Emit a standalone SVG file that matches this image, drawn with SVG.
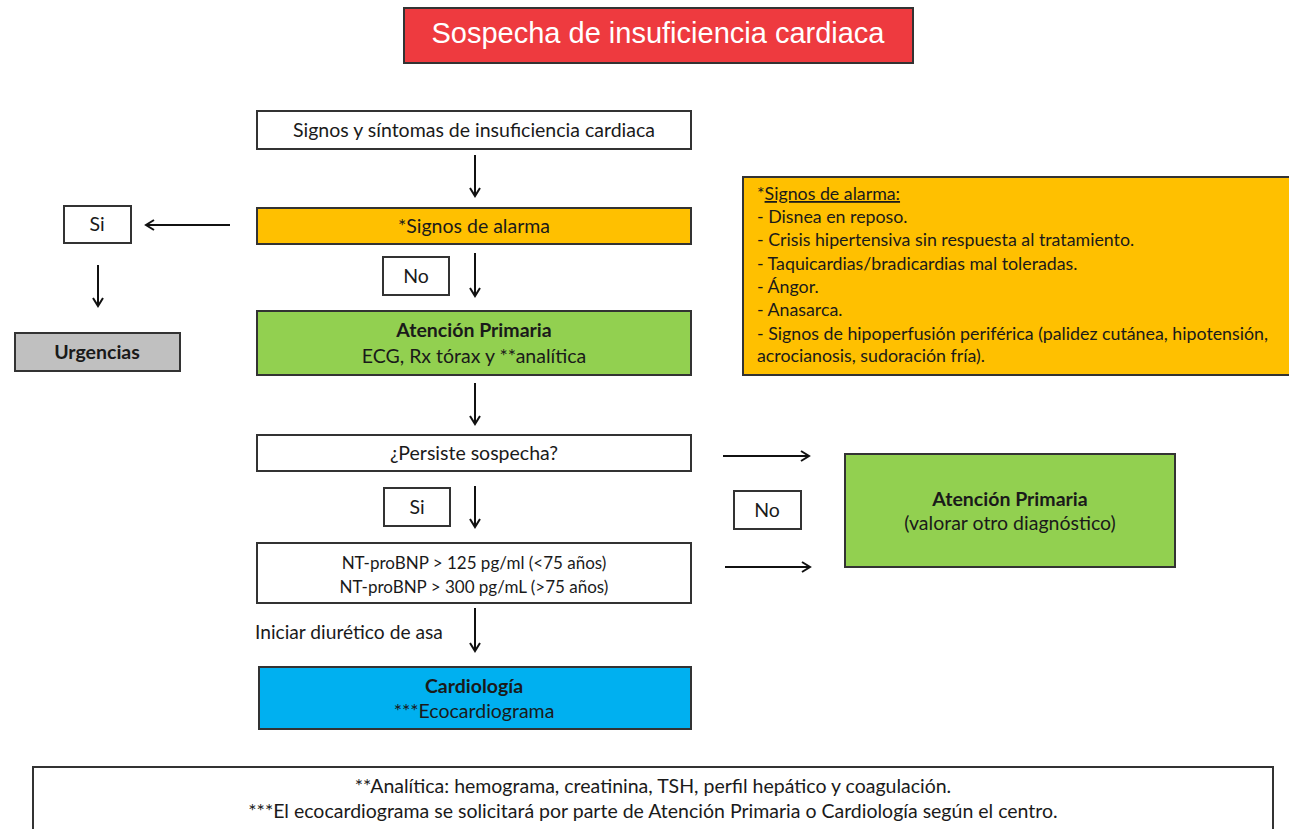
<svg xmlns="http://www.w3.org/2000/svg" width="1289" height="829" viewBox="0 0 1289 829">
<defs>
<marker id="ah" markerWidth="12" markerHeight="12" refX="10" refY="6" orient="auto" markerUnits="userSpaceOnUse">
<polyline points="2,1 10,6 2,11" fill="none" stroke="#111" stroke-width="2"/>
</marker>
<style>
.box{stroke:#333;stroke-width:2}
.t{font-family:Lato,"Open Sans","Liberation Sans",sans-serif;font-size:19.5px;fill:#1a1a1a;text-anchor:middle}
.b{font-weight:bold}
.l{font-family:Lato,"Open Sans","Liberation Sans",sans-serif;font-size:17.8px;fill:#1a1a1a}
.s{font-size:17px}
.c{stroke:#111;stroke-width:2;fill:none;marker-end:url(#ah)}
</style>
</defs>
<rect width="1289" height="829" fill="#fff"/>
<g id="title">
<rect x="404" y="8" width="509" height="55" fill="#EE3A3F" class="box"/>
<text x="658" y="43" font-family="'Liberation Sans',Arial,sans-serif" font-size="29" fill="#fff" text-anchor="middle">Sospecha de insuficiencia cardiaca</text>
</g>
<g id="connectors">
<line x1="475" y1="155" x2="475" y2="196" class="c"/>
<line x1="230" y1="225" x2="146" y2="225" class="c"/>
<line x1="98" y1="265" x2="98" y2="306" class="c"/>
<line x1="475" y1="253" x2="475" y2="296" class="c"/>
<line x1="475" y1="383" x2="475" y2="424" class="c"/>
<line x1="475" y1="486" x2="475" y2="527" class="c"/>
<line x1="723" y1="456" x2="809" y2="456" class="c"/>
<line x1="725" y1="567" x2="810" y2="567" class="c"/>
<line x1="475" y1="608" x2="475" y2="651" class="c"/>
</g>
<g id="n1">
<rect x="257" y="111" width="434" height="38" fill="#fff" class="box"/>
<text x="474" y="137" class="t">Signos y síntomas de insuficiencia cardiaca</text>
</g>
<g id="n2">
<rect x="257" y="208" width="434" height="36" fill="#FFC000" class="box"/>
<text x="474" y="233" class="t">*Signos de alarma</text>
</g>
<g id="si1">
<rect x="64" y="206" width="67" height="37" fill="#fff" class="box"/>
<text x="97" y="231" class="t">Si</text>
</g>
<g id="urg">
<rect x="15" y="333" width="165" height="38" fill="#C0C0C0" class="box"/>
<text x="97" y="359" class="t b">Urgencias</text>
</g>
<g id="no1">
<rect x="383" y="257" width="66" height="38" fill="#fff" class="box"/>
<text x="416" y="283" class="t">No</text>
</g>
<g id="ap1">
<rect x="257" y="311" width="434" height="64" fill="#92D050" class="box"/>
<text x="474" y="337" class="t b">Atención Primaria</text>
<text x="474" y="363" class="t">ECG, Rx tórax y **analítica</text>
</g>
<g id="persiste">
<rect x="257" y="435" width="434" height="36" fill="#fff" class="box"/>
<text x="474" y="460" class="t">¿Persiste sospecha?</text>
</g>
<g id="si2">
<rect x="384" y="488" width="66" height="38" fill="#fff" class="box"/>
<text x="417" y="514" class="t">Si</text>
</g>
<g id="nt">
<rect x="257" y="543" width="434" height="60" fill="#fff" class="box"/>
<text x="474" y="569" class="t s">NT-proBNP &gt; 125 pg/ml (&lt;75 años)</text>
<text x="474" y="593" class="t s">NT-proBNP &gt; 300 pg/mL (&gt;75 años)</text>
</g>
<g id="no2">
<rect x="734" y="491" width="67" height="38" fill="#fff" class="box"/>
<text x="767" y="517" class="t">No</text>
</g>
<g id="ap2">
<rect x="845" y="454" width="330" height="113" fill="#92D050" class="box"/>
<text x="1010" y="506" class="t b">Atención Primaria</text>
<text x="1010" y="530" class="t">(valorar otro diagnóstico)</text>
</g>
<g id="diur">
<text x="255" y="639" class="l" style="font-size:19.2px">Iniciar diurético de asa</text>
</g>
<g id="cardio">
<rect x="259" y="667" width="432" height="62" fill="#00B0F0" class="box"/>
<text x="474" y="693" class="t b">Cardiología</text>
<text x="474" y="718" class="t">***Ecocardiograma</text>
</g>
<g id="alarma">
<rect x="743" y="177" width="550" height="198" fill="#FFC000" class="box"/>
<text x="757" y="200" class="l">*<tspan text-decoration="underline">Signos de alarma:</tspan></text>
<text x="757" y="223" class="l">- Disnea en reposo.</text>
<text x="757" y="246" class="l">- Crisis hipertensiva sin respuesta al tratamiento.</text>
<text x="757" y="270" class="l">- Taquicardias/bradicardias mal toleradas.</text>
<text x="757" y="293" class="l">- Ángor.</text>
<text x="757" y="316" class="l">- Anasarca.</text>
<text x="757" y="340" class="l">- Signos de hipoperfusión periférica (palidez cutánea, hipotensión,</text>
<text x="757" y="362" class="l">acrocianosis, sudoración fría).</text>
</g>
<g id="footer">
<rect x="33" y="767" width="1240" height="70" fill="#fff" class="box"/>
<text x="653" y="793" class="t">**Analítica: hemograma, creatinina, TSH, perfil hepático y coagulación.</text>
<text x="653" y="818" class="t">***El ecocardiograma se solicitará por parte de Atención Primaria o Cardiología según el centro.</text>
</g>
</svg>
